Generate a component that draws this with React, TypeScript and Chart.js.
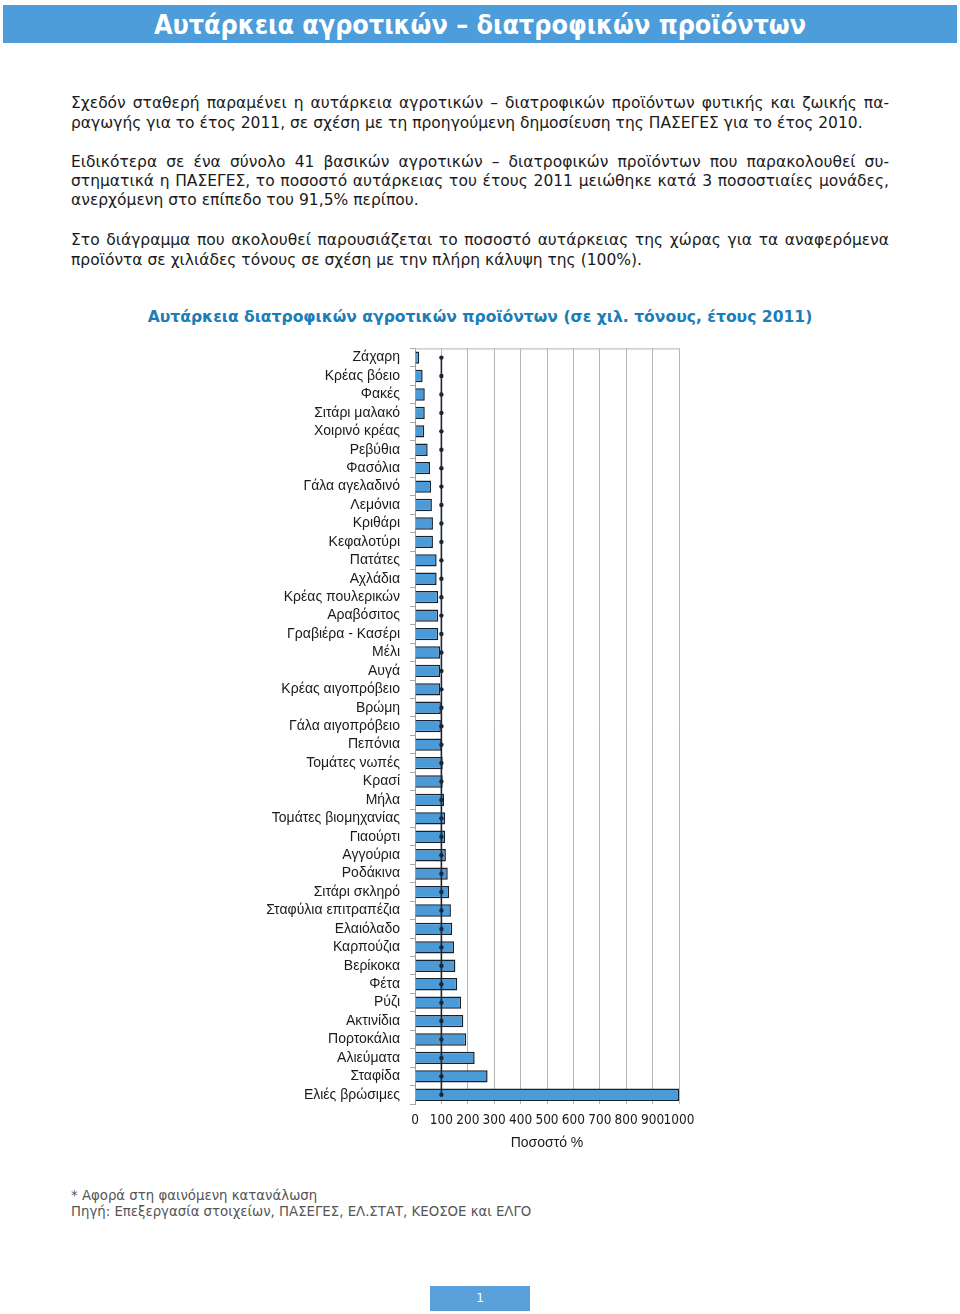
import React, { useEffect, useRef } from "react";
import { Chart, registerables } from "chart.js";

Chart.register(...registerables);

const categories = [
  "Ζάχαρη", "Κρέας βόειο", "Φακές", "Σιτάρι μαλακό", "Χοιρινό κρέας", "Ρεβύθια", "Φασόλια",
  "Γάλα αγελαδινό", "Λεμόνια", "Κριθάρι", "Κεφαλοτύρι", "Πατάτες", "Αχλάδια", "Κρέας πουλερικών",
  "Αραβόσιτος", "Γραβιέρα - Κασέρι", "Μέλι", "Αυγά", "Κρέας αιγοπρόβειο", "Βρώμη", "Γάλα αιγοπρόβειο",
  "Πεπόνια", "Τομάτες νωπές", "Κρασί", "Μήλα", "Τομάτες βιομηχανίας", "Γιαούρτι", "Αγγούρια",
  "Ροδάκινα", "Σιτάρι σκληρό", "Σταφύλια επιτραπέζια", "Ελαιόλαδο", "Καρπούζια", "Βερίκοκα",
  "Φέτα", "Ρύζι", "Ακτινίδια", "Πορτοκάλια", "Αλιεύματα", "Σταφίδα", "Ελιές βρώσιμες",
];

const selfSufficiency = [
  16, 29, 37, 37, 35, 48, 57, 61, 64, 68,
  68, 82, 82, 88, 88, 88, 95, 95, 95, 98,
  98, 101, 105, 105, 110, 114, 114, 117, 124, 129,
  136, 141, 148, 153, 160, 175, 183, 194, 226, 275,
  1000,
];

const fullCoverage = [
  100, 100, 100, 100, 100, 100, 100, 100, 100, 100,
  100, 100, 100, 100, 100, 100, 100, 100, 100, 100,
  100, 100, 100, 100, 100, 100, 100, 100, 100, 100,
  100, 100, 100, 100, 100, 100, 100, 100, 100, 100,
  100,
];

const xTickMin = 0;
const xTickMax = 1000;
const xTickStep = 100;

const pageTitle = "Αυτάρκεια αγροτικών – διατροφικών προϊόντων";
const chartTitle = "Αυτάρκεια διατροφικών αγροτικών προϊόντων (σε χιλ. τόνους, έτους 2011)";
const xAxisTitle = "Ποσοστό %";

const paragraphLines: { text: string; y: number; justify: boolean }[] = [
  { text: "Σχεδόν σταθερή παραμένει η αυτάρκεια αγροτικών – διατροφικών προϊόντων φυτικής και ζωικής πα-", y: 102, justify: true },
  { text: "ραγωγής για το έτος 2011, σε σχέση με τη προηγούμενη δημοσίευση της ΠΑΣΕΓΕΣ για το έτος 2010.", y: 122, justify: false },
  { text: "Ειδικότερα σε ένα σύνολο 41 βασικών αγροτικών – διατροφικών προϊόντων που παρακολουθεί συ-", y: 161, justify: true },
  { text: "στηματικά η ΠΑΣΕΓΕΣ, το ποσοστό αυτάρκειας του έτους 2011 μειώθηκε κατά 3 ποσοστιαίες μονάδες,", y: 180, justify: true },
  { text: "ανερχόμενη στο επίπεδο του 91,5% περίπου.", y: 199, justify: false },
  { text: "Στο διάγραμμα που ακολουθεί παρουσιάζεται το ποσοστό αυτάρκειας της χώρας για τα αναφερόμενα", y: 239, justify: true },
  { text: "προϊόντα σε χιλιάδες τόνους σε σχέση με την πλήρη κάλυψη της (100%).", y: 259, justify: false },
];

const footLines = [
  "* Αφορά στη φαινόμενη κατανάλωση",
  "Πηγή: Επεξεργασία στοιχείων, ΠΑΣΕΓΕΣ, ΕΛ.ΣΤΑΤ, ΚΕΟΣΟΕ και ΕΛΓΟ",
];

const topBorderPlugin = {
  id: "topBorder",
  afterDraw(chart: any) {
    const { ctx, chartArea } = chart;
    ctx.save();
    ctx.strokeStyle = "#b3b3b3";
    ctx.lineWidth = 1;
    ctx.beginPath();
    ctx.moveTo(chartArea.left, chartArea.top + 0.5);
    ctx.lineTo(chartArea.right, chartArea.top + 0.5);
    ctx.stroke();
    ctx.restore();
  },
};

function SelfSufficiencyChart() {
  const ref = useRef<HTMLCanvasElement | null>(null);
  useEffect(() => {
    if (!ref.current) return;
    const chart = new Chart(ref.current, {
      type: "bar",
      data: {
        labels: categories,
        datasets: [
          {
            type: "line",
            label: "100%",
            data: fullCoverage,
            borderColor: "#1b2533",
            backgroundColor: "#1b2533",
            borderWidth: 1.6,
            pointRadius: 2.2,
            pointBackgroundColor: "#1b2533",
            pointBorderWidth: 0,
            order: 0,
          } as any,
          {
            type: "bar",
            label: "Αυτάρκεια",
            data: selfSufficiency,
            backgroundColor: "#4b9bd9",
            borderColor: "#18222e",
            borderWidth: 1.5,
            barPercentage: 0.67,
            categoryPercentage: 1,
            order: 1,
          },
        ],
      },
      options: {
        indexAxis: "y",
        animation: false,
        responsive: false,
        maintainAspectRatio: false,
        layout: { padding: { top: 18, right: 31, bottom: 0, left: 0 } },
        plugins: { legend: { display: false }, tooltip: { enabled: false }, title: { display: false } },
        scales: {
          x: {
            min: xTickMin,
            max: xTickMax,
            ticks: {
              stepSize: xTickStep,
              padding: 8,
              maxRotation: 0,
              minRotation: 0,
              autoSkip: false,
              color: "#1a1a1a",
              font: { family: "'Liberation Sans Narrow', 'DejaVu Sans Condensed', sans-serif", size: 13.5 },
              callback: (v: any) => String(v),
            },
            grid: { color: "#b5b5b5", drawTicks: false, lineWidth: 1 },
            border: { display: false },
            title: {
              display: true,
              text: xAxisTitle,
              color: "#1a1a1a",
              padding: { top: 0, bottom: 2 },
              font: { family: "'Liberation Sans', sans-serif", size: 14 },
            },
            afterFit(scale: any) {
              scale.height = 50;
            },
          },
          y: {
            ticks: {
              padding: 10,
              color: "#1a1a1a",
              font: { family: "'Liberation Sans', sans-serif", size: 14 },
              autoSkip: false,
            },
            grid: { drawOnChartArea: false, drawTicks: true, tickLength: 5, color: "#aaaaaa", offset: true },
            border: { display: true, color: "#a0a0a0" },
            afterFit(scale: any) {
              scale.width = 165;
            },
          },
        },
      },
      plugins: [topBorderPlugin],
    });
    return () => chart.destroy();
  }, []);
  return (
    <canvas
      ref={ref}
      width={460}
      height={824}
      style={{ position: "absolute", left: 250, top: 330, width: 460, height: 824 }}
    />
  );
}

export default function App() {
  const bodyFont = "'DejaVu Sans', Verdana, sans-serif";
  return (
    <div style={{ position: "absolute", left: 0, top: 0, width: 960, height: 1314, background: "#fff", overflow: "hidden" }}>
      <div
        style={{
          position: "absolute", left: 3, top: 5, width: 954, height: 38, background: "#4d9ddb",
          color: "#fff", textAlign: "center", lineHeight: "40px", fontSize: 26.7, fontWeight: "bold",
          fontFamily: "'Liberation Sans Narrow', 'DejaVu Sans Condensed', sans-serif",
        }}
      >
        {pageTitle}
      </div>
      {paragraphLines.map((l, i) => (
        <div
          key={i}
          style={{
            position: "absolute", left: 71, top: l.y - 9, width: 818, height: 20, lineHeight: "20px",
            fontSize: 15.5, fontFamily: bodyFont, color: "#1a1a1a",
            whiteSpace: l.justify ? "normal" : "nowrap",
            textAlign: l.justify ? "justify" : "left", textAlignLast: l.justify ? "justify" : "left",
          } as React.CSSProperties}
        >
          {l.text}
        </div>
      ))}
      <div
        style={{
          position: "absolute", left: 0, top: 306, width: 960, textAlign: "center", lineHeight: "22px",
          fontSize: 15.6, fontWeight: "bold", fontFamily: bodyFont, color: "#1b7db8",
        }}
      >
        {chartTitle}
      </div>
      <SelfSufficiencyChart />
      {footLines.map((t, i) => (
        <div
          key={i}
          style={{
            position: "absolute", left: 71, top: 1188 + i * 16, lineHeight: "16px", fontSize: 13.3,
            fontFamily: bodyFont, color: "#555555", whiteSpace: "nowrap",
          }}
        >
          {t}
        </div>
      ))}
      <div
        style={{
          position: "absolute", left: 430, top: 1286, width: 100, height: 25, background: "#5aa0da",
          color: "#fff", textAlign: "center", lineHeight: "25px", fontSize: 12, fontFamily: bodyFont,
        }}
      >
        1
      </div>
    </div>
  );
}
